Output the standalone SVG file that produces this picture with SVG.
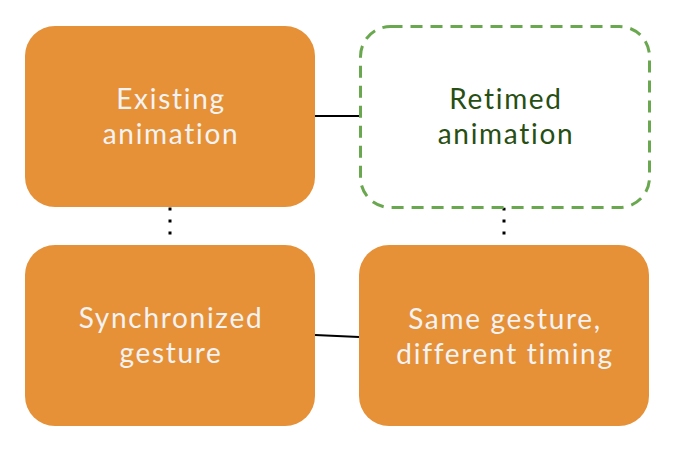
<svg xmlns="http://www.w3.org/2000/svg" width="679" height="453" viewBox="0 0 679 453">
<style>
.box{fill:#e69138;stroke:none}
.dash{fill:#ffffff;stroke:#6aa84f;stroke-width:3;stroke-dasharray:12,8}
.t{font-family:Lato,"Open Sans",sans-serif;font-size:28px;letter-spacing:1.7px;fill:#f3f3f3;text-anchor:middle}
.tg{fill:#274e13}
.ln{stroke:#000;stroke-width:2;fill:none}
.dot{stroke:#000;stroke-width:3;fill:none;stroke-dasharray:3,9}
</style>
<rect width="679" height="453" fill="#ffffff"/>
<g id="connectors">
<line class="ln" x1="315" y1="116" x2="359" y2="116"/>
<line class="ln" x1="315" y1="335" x2="359" y2="337"/>
<line class="dot" x1="170" y1="207.5" x2="170" y2="240"/>
<line class="dot" x1="504" y1="207.5" x2="504" y2="240"/>
</g>
<g id="existing">
<rect class="box" x="25" y="26" width="290" height="181" rx="30"/>
<text class="t" x="171" y="109">Existing</text>
<text class="t" x="171" y="144">animation</text>
</g>
<g id="retimed">
<rect class="dash" x="360.5" y="26.5" width="289" height="181" rx="30"/>
<text class="t tg" x="506" y="109">Retimed</text>
<text class="t tg" x="506" y="144">animation</text>
</g>
<g id="synchronized">
<rect class="box" x="25" y="245" width="290" height="181" rx="30"/>
<text class="t" x="171" y="328">Synchronized</text>
<text class="t" x="171" y="363">gesture</text>
</g>
<g id="same">
<rect class="box" x="359" y="245" width="290" height="181" rx="30"/>
<text class="t" x="505" y="329">Same gesture,</text>
<text class="t" x="505" y="364">different timing</text>
</g>
</svg>
